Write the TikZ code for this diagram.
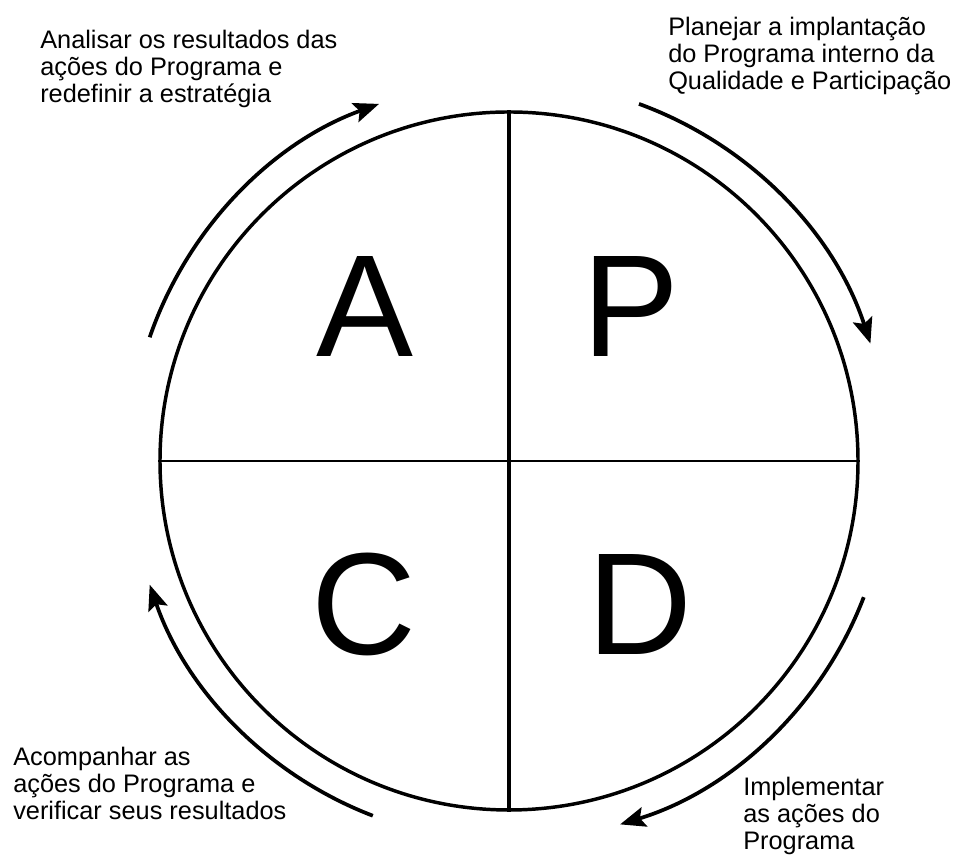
\documentclass[tikz,border=0pt]{standalone}
\usepackage{fontspec}
\setmainfont{Liberation Sans}
\usetikzlibrary{arrows.meta,calc}
\begin{document}
\begin{tikzpicture}[x=0.75pt,y=0.75pt,
  lbl/.style={inner sep=0pt,anchor=base west,align=left,font=\fontsize{19}{20.6}\selectfont},
  big/.style={inner sep=0pt,anchor=base,font=\fontsize{109}{120}\selectfont},
  cyc/.style={line width=2.8pt,-{Stealth[length=19pt,width=15pt,inset=3.5pt]}}]
\useasboundingbox (0,0) rectangle (972,859);
\coordinate (O) at (509,398);
\node[circle,draw,line width=2.6pt,minimum size=523.5pt,inner sep=0pt] (circ) at (O) {};
\draw[line width=2.2pt] (circ.west) -- (circ.east);
\draw[line width=2.6pt] (circ.north) -- (circ.south);
\node[big] (A) at (365,502) {A};
\node[big] (P) at (631,502) {P};
\node[big] (C) at (364,204) {C};
\node[big] (D) at (640,204) {D};
\coordinate (tl) at ($(O)+(161:285pt)$);
\coordinate (tr) at ($(O)+(70:285pt)$);
\coordinate (br) at ($(O)+(-21:285pt)$);
\coordinate (bl) at ($(O)+(249:285pt)$);
\draw[cyc] (tl) arc[start angle=161,end angle=110,radius=285pt];
\draw[cyc] (tr) arc[start angle=70,end angle=18,radius=285pt];
\draw[cyc] (br) arc[start angle=-21,end angle=-73,radius=285pt];
\draw[cyc] (bl) arc[start angle=249,end angle=199,radius=285pt];
\node[lbl] (tlt) at (40,756) {Analisar os resultados das\\ações do Programa e\\redefinir a estratégia};
\node[lbl] (trt) at (668,769) {Planejar a implantação\\do Programa interno da\\Qualidade e Participação};
\node[lbl] (blt) at (13,39) {Acompanhar as\\ações do Programa e\\verificar seus resultados};
\node[lbl] (brt) at (743,9) {Implementar\\as ações do\\Programa};
\end{tikzpicture}
\end{document}
